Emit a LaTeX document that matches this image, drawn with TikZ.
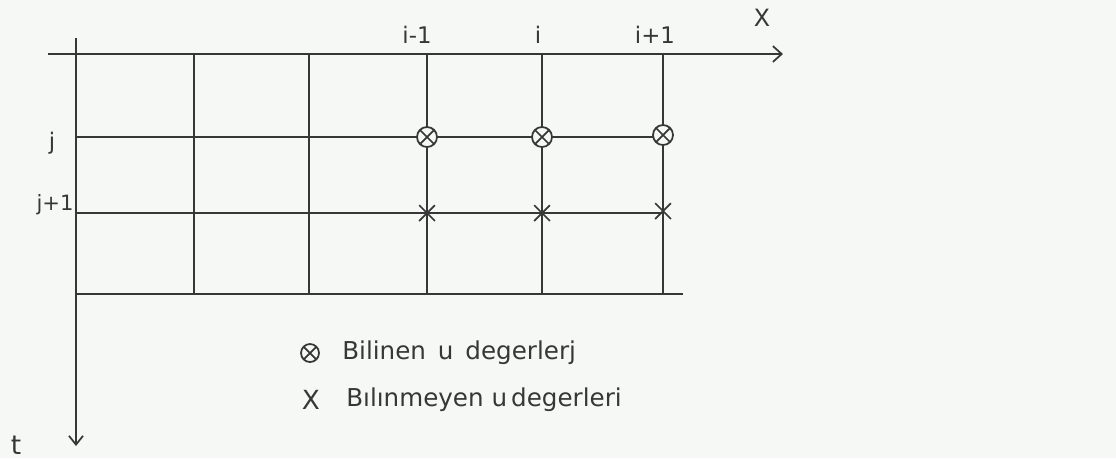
\documentclass[tikz,border=0pt]{standalone}
\usepackage{fontspec}
\setmainfont{DejaVu Sans}
\newfontfamily\typewriter{Liberation Mono}
\usetikzlibrary{arrows.meta}
\definecolor{paper}{RGB}{246,248,246}
\definecolor{ink}{RGB}{55,55,55}
\tikzset{
  gridline/.style={draw=ink, line width=1.2pt},
  bilinen/.style={circle, draw=ink, line width=1pt, minimum size=0.4cm, inner sep=0pt,
    path picture={\draw[ink, line width=1pt] (path picture bounding box.south west) -- (path picture bounding box.north east)
      (path picture bounding box.north west) -- (path picture bounding box.south east);}},
  bilinmeyen/.style={cross out, draw=ink, line width=1pt, minimum size=0.28cm, inner sep=0pt},
  lbl/.style={text=ink, font=\fontsize{13}{15}\selectfont, inner sep=1pt},
  legend/.style={text=ink, font=\fontsize{14}{16}\selectfont, anchor=west, inner sep=0pt}
}
\usetikzlibrary{shapes.misc}
\begin{document}
\begin{tikzpicture}[x=0.02cm, y=-0.02cm]
    \fill[paper] (0,0) rectangle (1116,458);
    \foreach \n/\x in {0/76,1/194,2/309,3/427,4/542,5/663}{
        \coordinate (top\n) at (\x,54);
        \coordinate (bot\n) at (\x,294);
        \coordinate (j\n) at (\x,137);
        \coordinate (jj\n) at (\x,213);
    }
    \coordinate (xstart) at (48,54);
    \coordinate (xend) at (783,54);
    \coordinate (tstart) at (76,38);
    \coordinate (tend) at (76,446);
    \coordinate (botend) at (683,294);

    % eksenler
    \draw[gridline, -{Straight Barb[length=5pt, width=9pt, line width=1pt]}] (xstart) -- (xend);
    \draw[gridline, -{Straight Barb[length=5pt, width=8pt, line width=1pt]}] (tstart) -- (tend);

    % izgara
    \foreach \n in {1,...,5}{
        \draw[gridline] (top\n) -- (bot\n);
    }
    \draw[gridline] (j0) -- (j5);
    \draw[gridline] (jj0) -- (jj5);
    \draw[gridline] (bot0) -- (botend);

    % noktalar
    \node[bilinen, fill=paper] (k1) at (j3) {};
    \node[bilinen, fill=paper] (k2) at (j4) {};
    \node[bilinen, fill=paper] (k3) at ([yshift=0.04cm]j5) {};
    \node[bilinmeyen] (u1) at (jj3) {};
    \node[bilinmeyen] (u2) at (jj4) {};
    \node[bilinmeyen] (u3) at ([yshift=0.04cm]jj5) {};

    % etiketler
    \node[lbl] (im) at (417,35) {i-1};
    \node[lbl] (i) at (538,35) {i};
    \node[lbl] (ip) at (655,35) {i+1};
    \node[text=ink, font=\typewriter\fontsize{15}{17}\selectfont] (xl) at (762,18) {X};
    \node[lbl] (jl) at (52,143) {j};
    \node[lbl, font=\fontsize{12}{14}\selectfont] (jjl) at (55,205) {j+1};
    \node[lbl, font=\fontsize{15}{17}\selectfont] (tl) at (16,445) {t};

    % aciklama
    \node[bilinen, minimum size=0.36cm] (s1) at (310,353) {};
    \node[legend] (l1) at (342,353) {Bilinen\, u\, degerlerj};
    \node[text=ink, font=\fontsize{15}{17}\selectfont] (s2) at (311,400) {X};
    \node[legend] (l2) at (346,400) {Bılınmeyen u\,degerleri};
\end{tikzpicture}
\end{document}
